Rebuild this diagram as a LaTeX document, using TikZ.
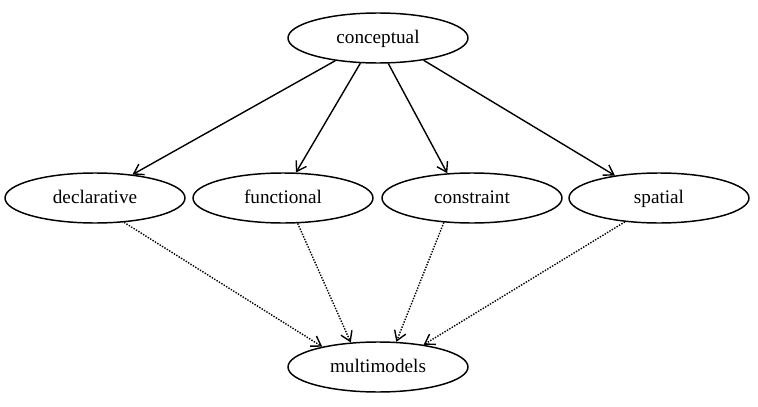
\documentclass[tikz,border=0pt]{standalone}
\usepackage{fontspec}
\setmainfont{Liberation Serif}
\usetikzlibrary{shapes.geometric,arrows.meta}
\begin{document}
\begin{tikzpicture}[x=0.75pt,y=-0.75pt,
  el/.style={draw,line width=1.1pt,ellipse,minimum width=135pt,minimum height=37.5pt,inner sep=0pt,text height=10.5pt,text depth=2.5pt,font=\fontsize{14.4pt}{16pt}\selectfont},
  solidedge/.style={line width=1.05pt,-{Straight Barb[length=7pt,width=9pt,line width=1.05pt]}},
  dotedge/.style={line width=1.05pt,dash pattern=on 1.05pt off 1.05pt,-{Straight Barb[length=7pt,width=9pt,line width=1.05pt]}}]
\useasboundingbox (0,0) rectangle (758,407);
\node[el] (c) at (378,38) {conceptual};
\node[el] (d) at (95,198) {declarative};
\node[el] (f) at (283,198) {functional};
\node[el] (k) at (472,198) {constraint};
\node[el] (s) at (659,198) {spatial};
\node[el] (m) at (378,367) {multimodels};
\draw[solidedge] (c.208) -- (d.32);
\draw[solidedge] (c.235) -- (f.63);
\draw[solidedge] (c.292) -- (k.135);
\draw[solidedge] (c.334) -- (s.153);
\draw[dotedge] (d.320) -- (m.160);
\draw[dotedge] (f.300) -- (m.138);
\draw[dotedge] (k.221) -- (m.54);
\draw[dotedge] (s.215) -- (m.26);
\end{tikzpicture}
\end{document}
